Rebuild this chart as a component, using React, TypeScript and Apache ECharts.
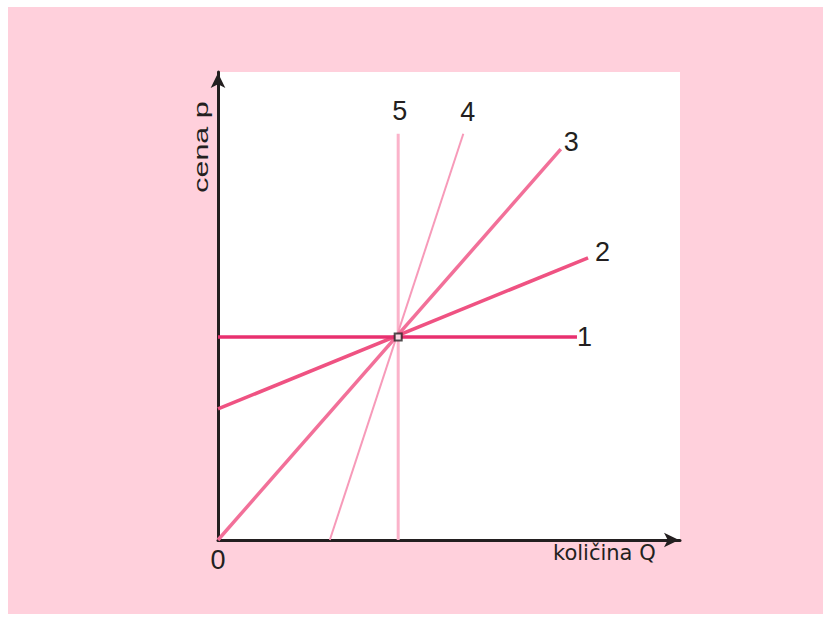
import React, { useEffect, useRef } from "react";
import * as echarts from "echarts";

const lineNames = ["1", "2", "3", "4", "5"];
const line1 = [[0, 4.34], [7.77, 4.34]];
const line2 = [[0, 2.8], [8.01, 6.03]];
const line3 = [[0, 0], [7.42, 8.35]];
const line4 = [[2.42, 0], [5.31, 8.68]];
const line5 = [[3.9, 0], [3.9, 8.68]];
const equilibrium = [[3.9, 4.34]];
const xTitle = "količina Q";
const yTitle = "cena p";

const INK = "#231f20";
const FONT = "'Liberation Sans Narrow', 'Liberation Sans', Arial, sans-serif";

export default function App() {
  const ref = useRef<HTMLDivElement>(null);
  useEffect(() => {
    const chart = echarts.init(ref.current!, null, { renderer: "svg" });
    const lines = [line1, line2, line3, line4, line5];
    const colors = ["#e8306f", "#ef5282", "#f27099", "#f79ab9", "#fbb3ca"];
    const widths = [3.5, 3.5, 3.5, 2, 3];
    const offsets = [[-8, 0], [-1, -6], [-5, -7], [-11, -22], [-14, -23]];
    const series: any[] = [];
    for (let i = 4; i >= 0; i--) {
      series.push({
        type: "line",
        name: lineNames[i],
        data: lines[i],
        showSymbol: false,
        symbol: "none",
        clip: false,
        lineStyle: { color: colors[i], width: widths[i] },
        endLabel: {
          show: true,
          formatter: lineNames[i],
          color: INK,
          fontFamily: FONT,
          fontSize: 27,
          offset: offsets[i],
        },
        z: 2 + (4 - i),
      });
    }
    series.push({
      type: "scatter",
      data: equilibrium,
      symbol: "rect",
      symbolSize: 7,
      itemStyle: { color: "#ffffff", borderColor: INK, borderWidth: 2 },
      z: 10,
    });
    chart.setOption({
      animation: false,
      grid: {
        left: 210,
        top: 65,
        width: 462,
        height: 468,
        show: true,
        backgroundColor: "#ffffff",
        borderWidth: 0,
      },
      xAxis: {
        type: "value",
        min: 0,
        max: 10,
        interval: 10,
        splitLine: { show: false },
        axisTick: { show: false },
        axisLine: {
          lineStyle: { color: INK, width: 3 },
          symbol: ["none", "arrow"],
          symbolSize: [11, 15],
          symbolOffset: [0, -1],
        },
        axisLabel: {
          formatter: (v: number) => (v === 0 ? "0" : ""),
          color: INK,
          fontFamily: FONT,
          fontSize: 27,
          margin: 6,
        },
        name: xTitle,
        nameLocation: "end",
        nameGap: -127,
        nameTextStyle: {
          color: INK,
          fontFamily: "'DejaVu Sans', 'Liberation Sans', Arial, sans-serif",
          fontSize: 21,
          verticalAlign: "top",
          padding: [2, 0, 0, 0],
        },
      },
      yAxis: {
        type: "value",
        min: 0,
        max: 10,
        interval: 10,
        splitLine: { show: false },
        axisTick: { show: false },
        axisLabel: { show: false },
        axisLine: {
          lineStyle: { color: INK, width: 3 },
          symbol: ["none", "arrow"],
          symbolSize: [11, 15],
          symbolOffset: [0, -1],
        },
      },
      graphic: [
        {
          type: "text",
          x: 193,
          y: 140,
          rotation: Math.PI / 2,
          scaleX: 1.45,
          style: {
            text: yTitle,
            fill: INK,
            font: "21px 'Liberation Sans', Arial, sans-serif",
            textAlign: "center",
            textVerticalAlign: "middle",
          },
        },
      ],
      series,
    });
    return () => chart.dispose();
  }, []);
  return (
    <div
      style={{
        position: "absolute",
        left: 8,
        top: 7,
        width: 815,
        height: 607,
        background: "#ffd0dc",
      }}
    >
      <div ref={ref} style={{ width: 815, height: 607 }} />
    </div>
  );
}
